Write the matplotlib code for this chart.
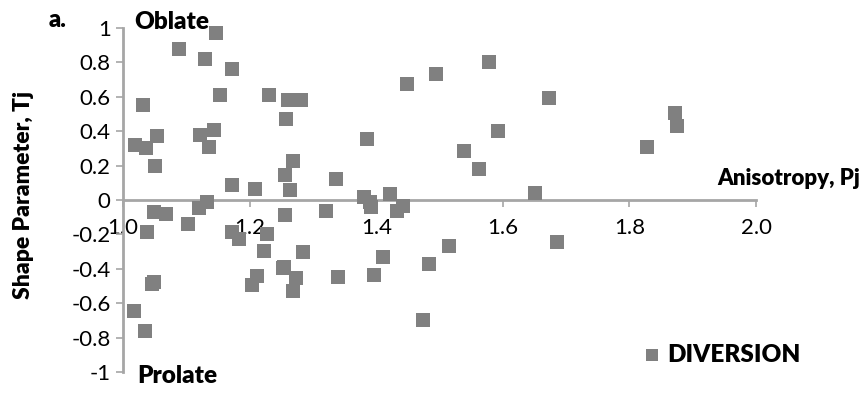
import matplotlib
matplotlib.use("Agg")
import matplotlib.pyplot as plt

plt.rcParams['font.family'] = ['Lato', 'DejaVu Sans']

# anisotropy degree Pj and shape parameter Tj, DIVERSION site
pj = [1.019, 1.036, 1.032, 1.053, 1.051, 1.089, 1.147, 1.129, 1.172, 1.153,
      1.121, 1.143, 1.135, 1.172, 1.208, 1.231, 1.261, 1.281, 1.258, 1.256,
      1.268, 1.263, 1.120, 1.133, 1.049, 1.067, 1.037, 1.046, 1.049, 1.017,
      1.035, 1.102, 1.172, 1.183, 1.256, 1.227, 1.222, 1.211, 1.204, 1.252,
      1.320, 1.336, 1.381, 1.390, 1.391, 1.422, 1.433, 1.443, 1.284, 1.254,
      1.273, 1.269, 1.339, 1.410, 1.397, 1.483, 1.515, 1.474, 1.686, 1.651,
      1.386, 1.448, 1.495, 1.578, 1.673, 1.592, 1.539, 1.563, 1.872, 1.875,
      1.828]
tj = [0.318, 0.300, 0.555, 0.370, 0.200, 0.880, 0.970, 0.817, 0.760, 0.613,
      0.380, 0.405, 0.308, 0.089, 0.065, 0.609, 0.580, 0.582, 0.473, 0.143,
      0.226, 0.055, -0.045, -0.013, -0.071, -0.080, -0.188, -0.490, -0.475, -0.644,
      -0.761, -0.139, -0.188, -0.226, -0.085, -0.197, -0.294, -0.440, -0.493, -0.395,
      -0.067, 0.121, 0.016, -0.013, -0.042, 0.036, -0.067, -0.038, -0.304, -0.392,
      -0.454, -0.528, -0.450, -0.333, -0.434, -0.372, -0.265, -0.699, -0.242, 0.042,
      0.353, 0.673, 0.732, 0.804, 0.590, 0.400, 0.283, 0.178, 0.503, 0.429,
      0.308]

x_ticks = [1.0, 1.2, 1.4, 1.6, 1.8, 2.0]
y_ticks = [-1, -0.8, -0.6, -0.4, -0.2, 0, 0.2, 0.4, 0.6, 0.8, 1]

fig = plt.figure(figsize=(8.67, 3.94), dpi=100)
ax = fig.add_axes([0.142, 0.056, 0.730, 0.873])

ax.scatter(pj, tj, marker='s', s=105, color='#808080', linewidths=0,
           label='DIVERSION', zorder=3, clip_on=False)

ax.set_xlim(1.0, 2.0)
ax.set_ylim(-1, 1)
ax.set_xticks(x_ticks)
ax.set_xticklabels([f'{v:.1f}' for v in x_ticks])
ax.set_yticks(y_ticks)
ax.set_yticklabels([f'{v:g}' for v in y_ticks])

for side in ['top', 'right']:
    ax.spines[side].set_visible(False)
ax.spines['bottom'].set_position(('data', 0))
for side in ['left', 'bottom']:
    ax.spines[side].set_color('#a6a6a6')
    ax.spines[side].set_linewidth(2)
ax.tick_params(axis='both', which='major', direction='out', length=5,
               width=1.2, color='#a6a6a6', labelsize=16, labelcolor='black')
ax.tick_params(axis='x', pad=8)
ax.tick_params(axis='y', pad=4)

bold = dict(fontweight='heavy', color='black')
ax.text(1.018, 1.035, 'Oblate', fontsize=17.5, ha='left', va='center',
        clip_on=False, **bold)
ax.text(1.022, -1.023, 'Prolate', fontsize=17.5, ha='left', va='center',
        clip_on=False, **bold)
ax.text(2.164, 0.125, 'Anisotropy, Pj', fontsize=16, ha='right',
        va='center', clip_on=False, **bold)

fig.text(0.027, 1 - 195 / 394, 'Shape Parameter, Tj', rotation=90,
         fontsize=16.5, ha='center', va='center', **bold)
fig.text(0.066, 1 - 20 / 394, 'a.', fontsize=17, ha='center', va='center',
         **bold)

leg = ax.legend(loc='center left', bbox_to_anchor=(0.822, 0.05), frameon=False,
                handlelength=0.7, handletextpad=0.3, markerscale=0.8,
                borderaxespad=0, borderpad=0,
                prop={'size': 17.5, 'weight': 'heavy'})

fig.savefig('out.png', dpi=100)
